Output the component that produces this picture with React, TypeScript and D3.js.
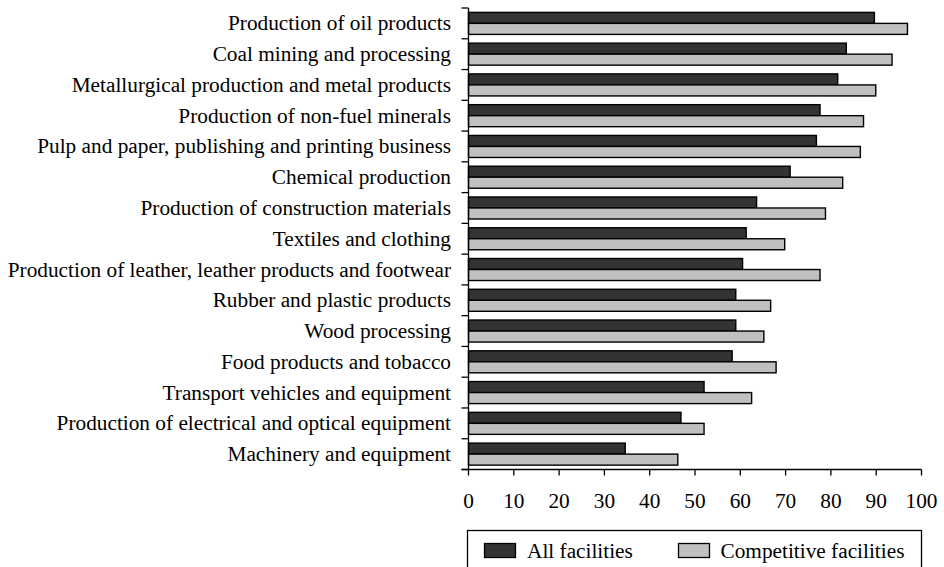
import * as React from 'react';
import * as d3 from 'd3';

const categories = [
  'Production of oil products',
  'Coal mining and processing',
  'Metallurgical production and metal products',
  'Production of non-fuel minerals',
  'Pulp and paper, publishing and printing business',
  'Chemical production',
  'Production of construction materials',
  'Textiles and clothing',
  'Production of leather, leather products and footwear',
  'Rubber and plastic products',
  'Wood processing',
  'Food products and tobacco',
  'Transport vehicles and equipment',
  'Production of electrical and optical equipment',
  'Machinery and equipment',
];

const allFacilities = [89.6, 83.4, 81.5, 77.6, 76.8, 71.0, 63.6, 61.3, 60.5, 59.0, 59.0, 58.2, 52.0, 46.9, 34.6];
const competitiveFacilities = [96.9, 93.5, 89.9, 87.2, 86.5, 82.6, 78.8, 69.8, 77.6, 66.7, 65.2, 67.9, 62.5, 52.0, 46.2];
const seriesNames = ['All facilities', 'Competitive facilities'];
const xTicks = [0, 10, 20, 30, 40, 50, 60, 70, 80, 90, 100];

const W = 944;
const H = 567;
const left = 468.5;
const right = 921.5;
const top = 8;
const bottom = 469.5;
const font = '"Liberation Serif", "Times New Roman", serif';
const fs = 21.3;
const colors = ['#333333', '#c0c0c0'];

const App: React.FC = () => {
  const x = d3.scaleLinear().domain([0, 100]).range([left, right]);
  const y = d3.scaleBand().domain(categories).range([top, bottom]).paddingInner(0.284).paddingOuter(0.142);
  const inner = d3.scaleBand().domain(seriesNames).range([0, y.bandwidth()]);
  const series = [allFacilities, competitiveFacilities];
  const step = y.step();

  return (
    <svg width={W} height={H} style={{ position: 'absolute', left: 0, top: 0, background: '#fff', fontFamily: font }}>
      {/* bars */}
      {series.map((vals, si) =>
        vals.map((v, i) => (
          <rect
            key={`${si}-${i}`}
            x={x(0)}
            y={(y(categories[i]) as number) + (inner(seriesNames[si]) as number)}
            width={x(v) - x(0)}
            height={inner.bandwidth()}
            fill={colors[si]}
            stroke="#000"
            strokeWidth={1.4}
          />
        ))
      )}

      {/* y axis */}
      <line x1={left} x2={left} y1={top} y2={bottom} stroke="#000" strokeWidth={1.3} />
      {d3.range(categories.length + 1).map(i => (
        <line key={i} x1={left - 7} x2={left} y1={top + i * step} y2={top + i * step} stroke="#000" strokeWidth={1.3} />
      ))}
      {categories.map(c => (
        <text key={c} x={451} y={(y(c) as number) + y.bandwidth() / 2} dy="0.33em" textAnchor="end" fontSize={fs} fill="#000">
          {c}
        </text>
      ))}

      {/* x axis */}
      <line x1={left - 7} x2={right} y1={bottom} y2={bottom} stroke="#000" strokeWidth={1.3} />
      {xTicks.map(t => (
        <g key={t}>
          <line x1={x(t)} x2={x(t)} y1={bottom} y2={bottom + 6} stroke="#000" strokeWidth={1.3} />
          <text x={x(t)} y={507.5} textAnchor="middle" fontSize={fs} fill="#000">{t}</text>
        </g>
      ))}

      {/* legend */}
      <rect x={467.5} y={530.5} width={454} height={60} fill="#fff" stroke="#000" strokeWidth={1.3} />
      <rect x={484.5} y={543.5} width={31} height={14} fill={colors[0]} stroke="#000" strokeWidth={1.3} />
      <text x={527} y={557.5} fontSize={fs} fill="#000">{seriesNames[0]}</text>
      <rect x={678.5} y={543.5} width={31} height={14} fill={colors[1]} stroke="#000" strokeWidth={1.3} />
      <text x={720.5} y={557.5} fontSize={fs} fill="#000">{seriesNames[1]}</text>
    </svg>
  );
};

export default App;
